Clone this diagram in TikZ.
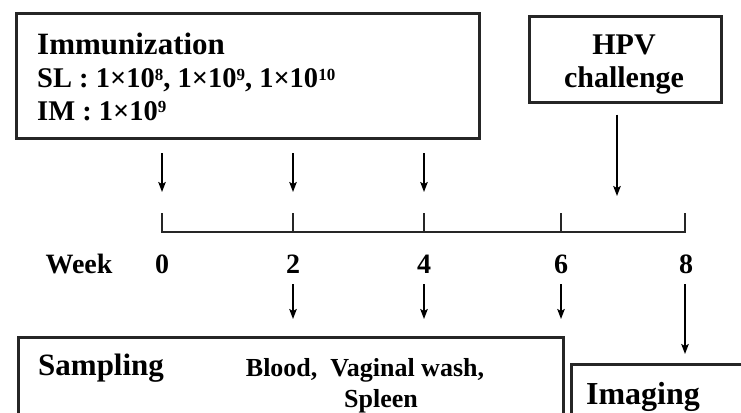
\documentclass[tikz,border=0pt]{standalone}
\usepackage{fontspec}
\setmainfont{Liberation Serif}
\usetikzlibrary{arrows.meta}
\newcommand\mysup[1]{\raisebox{7.6pt}{\bfseries\fontsize{17}{17}\selectfont #1}}
\begin{document}
\begin{tikzpicture}[x=1pt,y=-1pt,
  box/.style={draw=black!85,line width=2.6pt,rectangle,inner sep=0,anchor=north west},
  lbl/.style={inner sep=0,font=\bfseries},
  arr/.style={line width=1.7pt,-{Stealth[length=10pt,width=7.5pt,inset=2pt]}},
  tl/.style={line width=2.4pt,black!85}]
\useasboundingbox (0,0) rectangle (741,412);
\clip (0,0) rectangle (741,412);
% boxes
\node[box,minimum width=463pt,minimum height=125pt] (imm) at (15,12) {};
\node[box,minimum width=192pt,minimum height=86pt] (hpv) at (528,15) {};
\node[box,minimum width=545pt,minimum height=120pt] (samp) at (17,336) {};
\node[box,minimum width=200pt,minimum height=100pt] (img) at (570,363) {};
% texts
\node[lbl,anchor=base west,font=\bfseries\fontsize{31}{31}\selectfont] (t1) at (37,55) {Immunization};
\node[lbl,anchor=base west,font=\bfseries\fontsize{28.5}{28.5}\selectfont] (t2) at (37,88) {SL : 1×10\mysup{8}, 1×10\mysup{9}, 1×10\mysup{10}};
\node[lbl,anchor=base west,font=\bfseries\fontsize{28.5}{28.5}\selectfont] (t3) at (37,120) {IM : 1×10\mysup{9}};
\node[lbl,font=\bfseries\fontsize{30}{30}\selectfont] (h1) at (624,45) {HPV};
\node[lbl,font=\bfseries\fontsize{30}{30}\selectfont] (h2) at (624,80) {challenge};
\node[lbl,font=\bfseries\fontsize{28}{28}\selectfont] (week) at (79,264) {Week};
\foreach \x/\n in {162/0,293/2,424/4,561/6,686/8}{
  \node[lbl,font=\bfseries\fontsize{28}{28}\selectfont] (w\n) at (\x,264) {\n};
}
\node[lbl,anchor=west,font=\bfseries\fontsize{31}{31}\selectfont] (s1) at (38,368) {Sampling};
\node[lbl,font=\bfseries\fontsize{26}{26}\selectfont] (s2) at (365,370) {Blood,\ \ Vaginal wash,};
\node[lbl,font=\bfseries\fontsize{26}{26}\selectfont] (s3) at (381,401) {Spleen};
\node[lbl,font=\bfseries\fontsize{32}{32}\selectfont] (im1) at (643,397) {Imaging};
% timeline
\coordinate (L0) at (162,232);
\coordinate (L8) at (685,232);
\draw[tl,line cap=rect] (L0) -- (L8);
\foreach \x/\n in {162/0,293/2,424/4,561/6,685/8}{
  \coordinate (tk\n) at (\x,213);
  \draw[tl] (tk\n) -- (\x,232);
}
% top arrows
\foreach \x/\n in {162/0,293/2,424/4}{
  \coordinate (ua\n) at (\x,153);
  \coordinate (ub\n) at (\x,192);
  \draw[arr] (ua\n) -- (ub\n);
}
\coordinate (hb) at (617,196);
\draw[arr] (hpv.south -| hb) ++(0,11) coordinate (ha) (ha) -- (hb);
% bottom arrows
\foreach \x/\n in {293/2,424/4,561/6}{
  \coordinate (da\n) at (\x,284);
  \coordinate (db\n) at (\x,319);
  \draw[arr] (da\n) -- (db\n);
}
\coordinate (da8) at (685,284);
\coordinate (db8) at (685,354);
\draw[arr] (da8) -- (db8);
\end{tikzpicture}
\end{document}
